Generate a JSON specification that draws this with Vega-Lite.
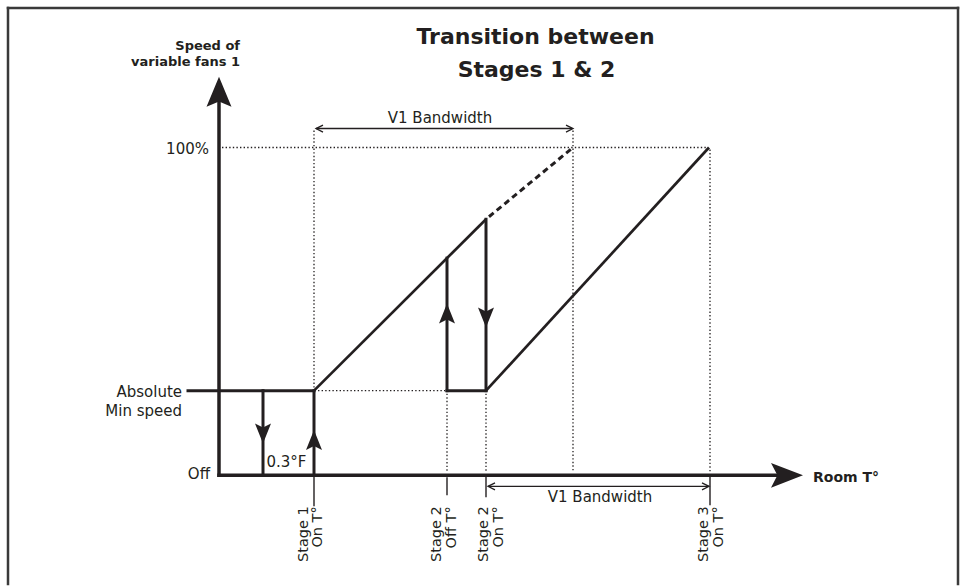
{
  "$schema": "https://vega.github.io/schema/vega-lite/v6.json",
  "width": 964,
  "height": 586,
  "autosize": {"type": "fit", "contains": "padding"},
  "padding": 0,
  "background": "white",
  "config": {"view": {"stroke": null}},
  "resolve": {"scale": {"shape": "independent"}},
  "datasets": {
    "segments": [
      {"kind": "frame", "x": 8, "y": 8, "x2": 958, "y2": 8},
      {"kind": "frame", "x": 8, "y": 8, "x2": 8, "y2": 586},
      {"kind": "frame", "x": 958, "y": 8, "x2": 958, "y2": 586},
      {"kind": "axis", "x": 219, "y": 477, "x2": 219, "y2": 100},
      {"kind": "axis", "x": 219, "y": 477, "x2": 780, "y2": 477},
      {"kind": "thick", "x": 188, "y": 392, "x2": 314, "y2": 392},
      {"kind": "thick", "x": 263, "y": 392, "x2": 263, "y2": 477},
      {"kind": "thick", "x": 314, "y": 392, "x2": 314, "y2": 477},
      {"kind": "thick", "x": 447, "y": 392, "x2": 447, "y2": 259},
      {"kind": "thick", "x": 486, "y": 220, "x2": 486, "y2": 392},
      {"kind": "thick", "x": 447, "y": 392, "x2": 486, "y2": 392},
      {"kind": "diag", "x": 314, "y": 392, "x2": 486, "y2": 220},
      {"kind": "diag", "x": 486, "y": 392, "x2": 709, "y2": 148},
      {"kind": "dashed", "x": 489, "y": 217.5, "x2": 573, "y2": 148},
      {"kind": "dotted", "x": 222, "y": 148, "x2": 707, "y2": 148},
      {"kind": "dotted", "x": 314, "y": 131, "x2": 314, "y2": 390},
      {"kind": "dotted", "x": 318, "y": 392, "x2": 445, "y2": 392},
      {"kind": "dotted", "x": 573, "y": 131, "x2": 573, "y2": 474},
      {"kind": "dotted", "x": 447, "y": 395, "x2": 447, "y2": 474},
      {"kind": "dotted", "x": 486, "y": 395, "x2": 486, "y2": 474},
      {"kind": "dotted", "x": 710, "y": 150, "x2": 710, "y2": 474},
      {"kind": "thin", "x": 314, "y": 477, "x2": 314, "y2": 508},
      {"kind": "thin", "x": 447, "y": 479, "x2": 447, "y2": 497},
      {"kind": "thin", "x": 486, "y": 477, "x2": 486, "y2": 499},
      {"kind": "thin", "x": 710, "y": 477, "x2": 710, "y2": 507},
      {"kind": "thin", "x": 316, "y": 129, "x2": 572, "y2": 129},
      {"kind": "thin", "x": 488, "y": 488, "x2": 709, "y2": 488}
    ],
    "bigArrows": [
      {"dir": "up", "x": 219, "y": 92},
      {"dir": "right", "x": 787, "y": 477}
    ],
    "smallArrows": [
      {"dir": "down", "x": 263, "y": 435},
      {"dir": "up", "x": 314, "y": 441.5},
      {"dir": "up", "x": 447, "y": 314.5},
      {"dir": "down", "x": 486, "y": 318.5}
    ],
    "chevrons": [
      {"dir": "left", "x": 319.5, "y": 129},
      {"dir": "right", "x": 569.5, "y": 129},
      {"dir": "left", "x": 491.5, "y": 488},
      {"dir": "right", "x": 705.5, "y": 488}
    ],
    "labels": [
      {"kind": "title", "text": "Transition between", "x": 535.5, "y": 44},
      {"kind": "title", "text": "Stages 1 & 2", "x": 536.5, "y": 77},
      {"kind": "ytitle", "text": "Speed of", "x": 240, "y": 50},
      {"kind": "ytitle", "text": "variable fans 1", "x": 240, "y": 66},
      {"kind": "xtitle", "text": "Room T°", "x": 813, "y": 484},
      {"kind": "ylab", "text": "100%", "x": 209, "y": 154.5},
      {"kind": "ylab", "text": "Absolute", "x": 182, "y": 398},
      {"kind": "ylab", "text": "Min speed", "x": 182, "y": 417},
      {"kind": "ylab", "text": "Off", "x": 210, "y": 480.5},
      {"kind": "note", "text": "V1 Bandwidth", "x": 440, "y": 123.5},
      {"kind": "note", "text": "V1 Bandwidth", "x": 600, "y": 503.5},
      {"kind": "note", "text": "0.3°F", "x": 286.5, "y": 468.5},
      {"kind": "stage", "text": "Stage 1", "x": 308, "y": 508},
      {"kind": "stage", "text": "On T°", "x": 322, "y": 508},
      {"kind": "stage", "text": "Stage 2", "x": 440.5, "y": 508},
      {"kind": "stage", "text": "Off T°", "x": 455.5, "y": 508},
      {"kind": "stage", "text": "Stage 2", "x": 487.5, "y": 508},
      {"kind": "stage", "text": "On T°", "x": 502.5, "y": 508},
      {"kind": "stage", "text": "Stage 3", "x": 707.5, "y": 508},
      {"kind": "stage", "text": "On T°", "x": 722.5, "y": 508}
    ]
  },
  "encoding": {
    "x": {"field": "x", "type": "quantitative", "scale": {"domain": [0, 964], "nice": false, "zero": false}, "axis": null},
    "y": {"field": "y", "type": "quantitative", "scale": {"domain": [0, 586], "nice": false, "zero": false, "reverse": true}, "axis": null}
  },
  "layer": [
    {
      "data": {"name": "segments"},
      "transform": [{"filter": "datum.kind === 'frame'"}],
      "mark": {"type": "rule", "color": "#3a3a3a", "strokeWidth": 2.5, "strokeCap": "square"},
      "encoding": {"x2": {"field": "x2"}, "y2": {"field": "y2"}}
    },
    {
      "data": {"name": "segments"},
      "transform": [{"filter": "datum.kind === 'dotted'"}],
      "mark": {"type": "rule", "color": "#231f20", "strokeWidth": 1.3, "strokeDash": [1.4, 2.2]},
      "encoding": {"x2": {"field": "x2"}, "y2": {"field": "y2"}}
    },
    {
      "data": {"name": "segments"},
      "transform": [{"filter": "datum.kind === 'thin'"}],
      "mark": {"type": "rule", "color": "#231f20", "strokeWidth": 1.4},
      "encoding": {"x2": {"field": "x2"}, "y2": {"field": "y2"}}
    },
    {
      "data": {"name": "segments"},
      "transform": [{"filter": "datum.kind === 'dashed'"}],
      "mark": {"type": "rule", "color": "#231f20", "strokeWidth": 3, "strokeDash": [6, 4]},
      "encoding": {"x2": {"field": "x2"}, "y2": {"field": "y2"}}
    },
    {
      "data": {"name": "segments"},
      "transform": [{"filter": "datum.kind === 'diag'"}],
      "mark": {"type": "rule", "color": "#231f20", "strokeWidth": 2.7},
      "encoding": {"x2": {"field": "x2"}, "y2": {"field": "y2"}}
    },
    {
      "data": {"name": "segments"},
      "transform": [{"filter": "datum.kind === 'thick'"}],
      "mark": {"type": "rule", "color": "#231f20", "strokeWidth": 3, "strokeCap": "square"},
      "encoding": {"x2": {"field": "x2"}, "y2": {"field": "y2"}}
    },
    {
      "data": {"name": "segments"},
      "transform": [{"filter": "datum.kind === 'axis'"}],
      "mark": {"type": "rule", "color": "#231f20", "strokeWidth": 3.5, "strokeCap": "square"},
      "encoding": {"x2": {"field": "x2"}, "y2": {"field": "y2"}}
    },
    {
      "data": {"name": "bigArrows"},
      "mark": {"type": "point", "filled": true, "opacity": 1, "color": "#231f20", "size": 1024, "strokeWidth": 0},
      "encoding": {
        "shape": {"field": "dir", "type": "nominal", "legend": null,
          "scale": {"domain": ["up", "right"], "range": ["M0,-0.94L0.78,0.94L0,0.62L-0.78,0.94Z", "M1,0L-1,0.78L-0.6,0L-1,-0.78Z"]}}
      }
    },
    {
      "data": {"name": "smallArrows"},
      "mark": {"type": "point", "filled": true, "opacity": 1, "color": "#231f20", "size": 400, "strokeWidth": 0},
      "encoding": {
        "shape": {"field": "dir", "type": "nominal", "legend": null,
          "scale": {"domain": ["up", "down"], "range": ["M0,-1L0.8,1L0,0.6L-0.8,1Z", "M0,1L0.8,-1L0,-0.6L-0.8,-1Z"]}}
      }
    },
    {
      "data": {"name": "chevrons"},
      "mark": {"type": "point", "filled": false, "opacity": 1, "color": "#231f20", "size": 49, "strokeWidth": 1.3},
      "encoding": {
        "shape": {"field": "dir", "type": "nominal", "legend": null,
          "scale": {"domain": ["left", "right"], "range": ["M1,-1L-1,0L1,1", "M-1,-1L1,0L-1,1"]}}
      }
    },
    {
      "data": {"name": "labels"},
      "transform": [{"filter": "datum.kind === 'title'"}],
      "mark": {"type": "text", "font": "DejaVu Sans", "fontWeight": "bold", "fontSize": 22, "align": "center", "baseline": "alphabetic", "color": "#231f20"},
      "encoding": {"text": {"field": "text"}}
    },
    {
      "data": {"name": "labels"},
      "transform": [{"filter": "datum.kind === 'ytitle'"}],
      "mark": {"type": "text", "font": "DejaVu Sans", "fontWeight": "bold", "fontSize": 13, "align": "right", "baseline": "alphabetic", "color": "#231f20"},
      "encoding": {"text": {"field": "text"}}
    },
    {
      "data": {"name": "labels"},
      "transform": [{"filter": "datum.kind === 'xtitle'"}],
      "mark": {"type": "text", "font": "DejaVu Sans", "fontWeight": "bold", "fontSize": 14, "align": "left", "baseline": "alphabetic", "color": "#231f20"},
      "encoding": {"text": {"field": "text"}}
    },
    {
      "data": {"name": "labels"},
      "transform": [{"filter": "datum.kind === 'ylab'"}],
      "mark": {"type": "text", "font": "DejaVu Sans", "fontSize": 15, "align": "right", "baseline": "alphabetic", "color": "#231f20"},
      "encoding": {"text": {"field": "text"}}
    },
    {
      "data": {"name": "labels"},
      "transform": [{"filter": "datum.kind === 'note'"}],
      "mark": {"type": "text", "font": "DejaVu Sans", "fontSize": 15, "align": "center", "baseline": "alphabetic", "color": "#231f20"},
      "encoding": {"text": {"field": "text"}}
    },
    {
      "data": {"name": "labels"},
      "transform": [{"filter": "datum.kind === 'stage'"}],
      "mark": {"type": "text", "font": "DejaVu Sans", "fontSize": 14.5, "angle": 270, "align": "right", "baseline": "alphabetic", "color": "#231f20"},
      "encoding": {"text": {"field": "text"}}
    }
  ]
}
